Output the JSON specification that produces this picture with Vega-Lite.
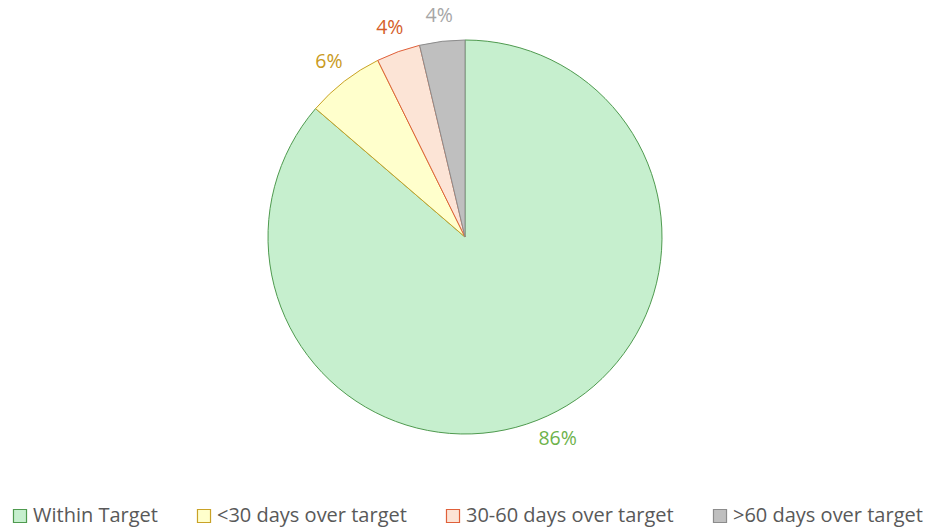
{
  "$schema": "https://vega.github.io/schema/vega-lite/v6.json",
  "width": 930,
  "height": 474,
  "padding": {"top": 0, "left": 0, "right": 0, "bottom": 2},
  "background": "white",
  "config": {"view": {"stroke": null}, "font": "Open Sans"},
  "data": {"values": [
    {"cat": "Within Target", "value": 86.3, "ord": 1, "label": "86%"},
    {"cat": "<30 days over target", "value": 6.4, "ord": 2, "label": "6%"},
    {"cat": "30-60 days over target", "value": 3.6, "ord": 3, "label": "4%"},
    {"cat": ">60 days over target", "value": 3.7, "ord": 4, "label": "4%"}
  ]},
  "encoding": {
    "theta": {"field": "value", "type": "quantitative", "stack": true},
    "order": {"field": "ord", "type": "quantitative"}
  },
  "layer": [
    {
      "mark": {"type": "arc", "outerRadius": 197, "strokeWidth": 1},
      "encoding": {
        "color": {"field": "cat", "type": "nominal",
          "scale": {"domain": ["Within Target", "<30 days over target", "30-60 days over target", ">60 days over target"],
                    "range": ["#C6EFCE", "#FFFFCC", "#FCE4D6", "#BFBFBF"]},
          "legend": {"title": null, "orient": "none", "legendX": 10, "legendY": 506, "direction": "horizontal",
                     "columns": 4, "symbolType": "square", "symbolSize": 170, "symbolStrokeWidth": 1.2,
                     "labelFontSize": 20, "labelColor": "#595959", "labelFont": "Open Sans", "columnPadding": 36, "labelOffset": 3, "labelLimit": 400}},
        "stroke": {"field": "cat", "type": "nominal",
          "scale": {"domain": ["Within Target", "<30 days over target", "30-60 days over target", ">60 days over target"],
                    "range": ["#4F9A4F", "#C9A227", "#E0603A", "#8C8C8C"]},
          "legend": {"title": null, "orient": "none", "legendX": 10, "legendY": 506, "direction": "horizontal",
                     "columns": 4, "symbolType": "square", "symbolSize": 170, "symbolStrokeWidth": 1.2,
                     "labelFontSize": 20, "labelColor": "#595959", "labelFont": "Open Sans", "columnPadding": 36, "labelOffset": 3, "labelLimit": 400}}
      }
    },
    {
      "mark": {"type": "text", "radius": 222, "fontSize": 19.5, "font": "Open Sans"},
      "encoding": {
        "text": {"field": "label"},
        "fill": {"field": "cat", "type": "nominal",
          "scale": {"domain": ["Within Target", "<30 days over target", "30-60 days over target", ">60 days over target"],
                    "range": ["#6DB24A", "#C99A22", "#D55E2A", "#A6A6A6"]},
          "legend": null}
      }
    }
  ],
  "resolve": {"scale": {"fill": "independent"}, "legend": {"fill": "independent"}}
}
